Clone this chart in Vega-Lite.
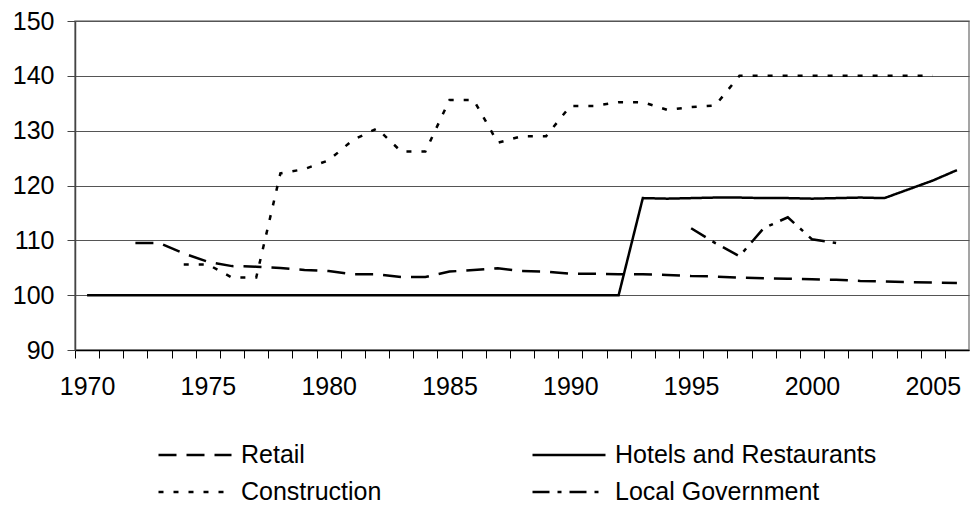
{
  "$schema": "https://vega.github.io/schema/vega-lite/v6.json",
  "width": 894,
  "height": 329,
  "autosize": {"type": "none"},
  "padding": {"left": 75, "top": 21, "right": 3, "bottom": 157},
  "background": "white",
  "config": {"font": "Liberation Sans", "view": {"stroke": "#888888", "strokeWidth": 1.5}},
  "data": {"values": [
    {"year": 1970, "series": "Hotels and Restaurants", "value": 100},
    {"year": 1971, "series": "Hotels and Restaurants", "value": 100},
    {"year": 1972, "series": "Hotels and Restaurants", "value": 100},
    {"year": 1973, "series": "Hotels and Restaurants", "value": 100},
    {"year": 1974, "series": "Hotels and Restaurants", "value": 100},
    {"year": 1975, "series": "Hotels and Restaurants", "value": 100},
    {"year": 1976, "series": "Hotels and Restaurants", "value": 100},
    {"year": 1977, "series": "Hotels and Restaurants", "value": 100},
    {"year": 1978, "series": "Hotels and Restaurants", "value": 100},
    {"year": 1979, "series": "Hotels and Restaurants", "value": 100},
    {"year": 1980, "series": "Hotels and Restaurants", "value": 100},
    {"year": 1981, "series": "Hotels and Restaurants", "value": 100},
    {"year": 1982, "series": "Hotels and Restaurants", "value": 100},
    {"year": 1983, "series": "Hotels and Restaurants", "value": 100},
    {"year": 1984, "series": "Hotels and Restaurants", "value": 100},
    {"year": 1985, "series": "Hotels and Restaurants", "value": 100},
    {"year": 1986, "series": "Hotels and Restaurants", "value": 100},
    {"year": 1987, "series": "Hotels and Restaurants", "value": 100},
    {"year": 1988, "series": "Hotels and Restaurants", "value": 100},
    {"year": 1989, "series": "Hotels and Restaurants", "value": 100},
    {"year": 1990, "series": "Hotels and Restaurants", "value": 100},
    {"year": 1991, "series": "Hotels and Restaurants", "value": 100},
    {"year": 1992, "series": "Hotels and Restaurants", "value": 100},
    {"year": 1993, "series": "Hotels and Restaurants", "value": 117.7},
    {"year": 1994, "series": "Hotels and Restaurants", "value": 117.6},
    {"year": 1995, "series": "Hotels and Restaurants", "value": 117.7},
    {"year": 1996, "series": "Hotels and Restaurants", "value": 117.8},
    {"year": 1997, "series": "Hotels and Restaurants", "value": 117.8},
    {"year": 1998, "series": "Hotels and Restaurants", "value": 117.7},
    {"year": 1999, "series": "Hotels and Restaurants", "value": 117.7},
    {"year": 2000, "series": "Hotels and Restaurants", "value": 117.6},
    {"year": 2001, "series": "Hotels and Restaurants", "value": 117.7},
    {"year": 2002, "series": "Hotels and Restaurants", "value": 117.8},
    {"year": 2003, "series": "Hotels and Restaurants", "value": 117.7},
    {"year": 2004, "series": "Hotels and Restaurants", "value": 119.3},
    {"year": 2005, "series": "Hotels and Restaurants", "value": 120.9},
    {"year": 2006, "series": "Hotels and Restaurants", "value": 122.8},
    {"year": 1972, "series": "Retail", "value": 109.5},
    {"year": 1973, "series": "Retail", "value": 109.5},
    {"year": 1974, "series": "Retail", "value": 107.6},
    {"year": 1975, "series": "Retail", "value": 106.1},
    {"year": 1976, "series": "Retail", "value": 105.3},
    {"year": 1977, "series": "Retail", "value": 105.2},
    {"year": 1978, "series": "Retail", "value": 104.95},
    {"year": 1979, "series": "Retail", "value": 104.6},
    {"year": 1980, "series": "Retail", "value": 104.4},
    {"year": 1981, "series": "Retail", "value": 103.8},
    {"year": 1982, "series": "Retail", "value": 103.8},
    {"year": 1983, "series": "Retail", "value": 103.3},
    {"year": 1984, "series": "Retail", "value": 103.3},
    {"year": 1985, "series": "Retail", "value": 104.3},
    {"year": 1986, "series": "Retail", "value": 104.6},
    {"year": 1987, "series": "Retail", "value": 104.9},
    {"year": 1988, "series": "Retail", "value": 104.4},
    {"year": 1989, "series": "Retail", "value": 104.3},
    {"year": 1990, "series": "Retail", "value": 103.9},
    {"year": 1991, "series": "Retail", "value": 103.9},
    {"year": 1992, "series": "Retail", "value": 103.8},
    {"year": 1993, "series": "Retail", "value": 103.8},
    {"year": 1994, "series": "Retail", "value": 103.7},
    {"year": 1995, "series": "Retail", "value": 103.5},
    {"year": 1996, "series": "Retail", "value": 103.4},
    {"year": 1997, "series": "Retail", "value": 103.2},
    {"year": 1998, "series": "Retail", "value": 103.1},
    {"year": 1999, "series": "Retail", "value": 103.0},
    {"year": 2000, "series": "Retail", "value": 102.9},
    {"year": 2001, "series": "Retail", "value": 102.8},
    {"year": 2002, "series": "Retail", "value": 102.6},
    {"year": 2003, "series": "Retail", "value": 102.5},
    {"year": 2004, "series": "Retail", "value": 102.4},
    {"year": 2005, "series": "Retail", "value": 102.3},
    {"year": 2006, "series": "Retail", "value": 102.2},
    {"year": 1974, "series": "Construction", "value": 105.6},
    {"year": 1975, "series": "Construction", "value": 105.6},
    {"year": 1976, "series": "Construction", "value": 103.2},
    {"year": 1977, "series": "Construction", "value": 103.2},
    {"year": 1978, "series": "Construction", "value": 122.2},
    {"year": 1979, "series": "Construction", "value": 123.0},
    {"year": 1980, "series": "Construction", "value": 124.6},
    {"year": 1981, "series": "Construction", "value": 128.3},
    {"year": 1982, "series": "Construction", "value": 130.4},
    {"year": 1983, "series": "Construction", "value": 126.2},
    {"year": 1984, "series": "Construction", "value": 126.2},
    {"year": 1985, "series": "Construction", "value": 135.6},
    {"year": 1986, "series": "Construction", "value": 135.6},
    {"year": 1987, "series": "Construction", "value": 127.8},
    {"year": 1988, "series": "Construction", "value": 129.0},
    {"year": 1989, "series": "Construction", "value": 129.0},
    {"year": 1990, "series": "Construction", "value": 134.5},
    {"year": 1991, "series": "Construction", "value": 134.5},
    {"year": 1992, "series": "Construction", "value": 135.2},
    {"year": 1993, "series": "Construction", "value": 135.2},
    {"year": 1994, "series": "Construction", "value": 133.8},
    {"year": 1995, "series": "Construction", "value": 134.3},
    {"year": 1996, "series": "Construction", "value": 134.6},
    {"year": 1997, "series": "Construction", "value": 140},
    {"year": 1998, "series": "Construction", "value": 140},
    {"year": 1999, "series": "Construction", "value": 140},
    {"year": 2000, "series": "Construction", "value": 140},
    {"year": 2001, "series": "Construction", "value": 140},
    {"year": 2002, "series": "Construction", "value": 140},
    {"year": 2003, "series": "Construction", "value": 140},
    {"year": 2004, "series": "Construction", "value": 140},
    {"year": 2005, "series": "Construction", "value": 140},
    {"year": 1995, "series": "Local Government", "value": 112.2},
    {"year": 1996, "series": "Local Government", "value": 109.5},
    {"year": 1997, "series": "Local Government", "value": 107.1},
    {"year": 1998, "series": "Local Government", "value": 112.2},
    {"year": 1999, "series": "Local Government", "value": 114.2},
    {"year": 2000, "series": "Local Government", "value": 110.2},
    {"year": 2001, "series": "Local Government", "value": 109.5}
  ]},
  "encoding": {
    "x": {
      "field": "year", "type": "quantitative",
      "scale": {"domain": [1969.5, 2006.5], "nice": false, "zero": false},
      "axis": {
        "title": null,
        "values": [1970,1971,1972,1973,1974,1975,1976,1977,1978,1979,1980,1981,1982,1983,1984,1985,1986,1987,1988,1989,1990,1991,1992,1993,1994,1995,1996,1997,1998,1999,2000,2001,2002,2003,2004,2005,2006],
        "tickOffset": -12.08,
        "labelOffset": 12.08,
        "labelExpr": "datum.value % 5 === 0 ? '' + datum.value : ''",
        "grid": false,
        "domainColor": "black", "domainWidth": 1.5,
        "tickColor": "black", "tickSize": 8, "tickWidth": 1,
        "labelFontSize": 25, "labelColor": "black", "labelPadding": 16,
        "labelFlush": false, "labelOverlap": false
      }
    },
    "y": {
      "field": "value", "type": "quantitative",
      "scale": {"domain": [90, 150], "nice": false, "zero": false},
      "axis": {
        "title": null,
        "values": [90, 100, 110, 120, 130, 140, 150],
        "gridColor": "#555555", "gridWidth": 1,
        "domainColor": "#444444", "domainWidth": 1.5,
        "tickColor": "#444444", "tickSize": 8,
        "labelFontSize": 25, "labelColor": "black", "labelPadding": 13
      }
    }
  },
  "layer": [
    {
      "transform": [{"filter": {"field": "series", "oneOf": ["Retail", "Hotels and Restaurants"]}}],
      "mark": {"type": "line", "color": "black", "strokeWidth": 2.5},
      "encoding": {
        "strokeDash": {
          "field": "series", "type": "nominal",
          "scale": {"domain": ["Retail", "Hotels and Restaurants"], "range": [[18, 10], [1, 0]]},
          "legend": {
            "title": null, "orient": "none", "legendX": 82, "legendY": 396,
            "direction": "horizontal", "columns": 2, "columnPadding": 222, "padding": 0,
            "symbolType": "stroke", "symbolSize": 5329, "symbolStrokeWidth": 2.5,
            "symbolStrokeColor": "black",
            "labelFontSize": 25, "labelColor": "black", "labelOffset": 8, "labelLimit": 500
          }
        }
      }
    },
    {
      "transform": [{"filter": {"field": "series", "oneOf": ["Construction", "Local Government"]}}],
      "mark": {"type": "line", "color": "black", "strokeWidth": 2.5},
      "encoding": {
        "strokeDash": {
          "field": "series", "type": "nominal",
          "scale": {"domain": ["Construction", "Local Government"], "range": [[5, 10], [17, 8, 4, 8]]},
          "legend": {
            "title": null, "orient": "none", "legendX": 82, "legendY": 433,
            "direction": "horizontal", "columns": 2, "columnPadding": 145, "padding": 0,
            "symbolType": "stroke", "symbolSize": 5329, "symbolStrokeWidth": 2.5,
            "symbolStrokeColor": "black",
            "labelFontSize": 25, "labelColor": "black", "labelOffset": 8, "labelLimit": 500
          }
        }
      }
    }
  ],
  "resolve": {"scale": {"strokeDash": "independent"}, "legend": {"strokeDash": "independent"}}
}
